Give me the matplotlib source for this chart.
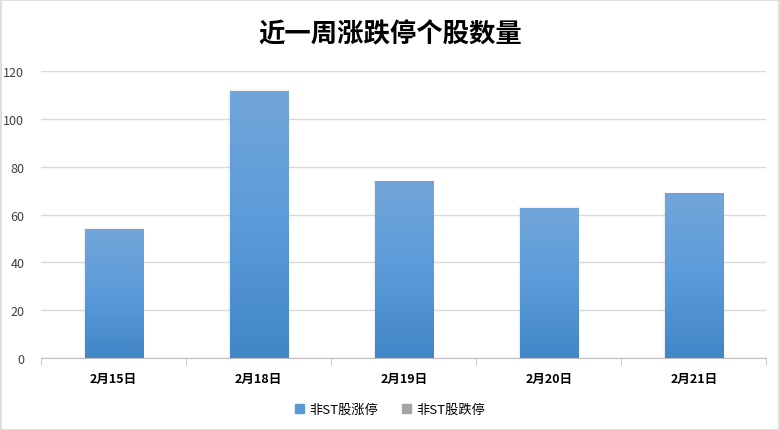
import matplotlib.pyplot as plt
import numpy as np
from matplotlib.colors import LinearSegmentedColormap
from matplotlib.patches import Rectangle

plt.rcParams['font.family'] = ['Noto Sans CJK SC', 'DejaVu Sans']

# data
dates = ['2月15日', '2月18日', '2月19日', '2月20日', '2月21日']
limit_up = [54, 112, 74, 63, 69]      # 非ST股涨停
limit_down = [0, 0, 0, 0, 0]          # 非ST股跌停 (no visible bars)
yticks = [0, 20, 40, 60, 80, 100, 120]

fig = plt.figure(figsize=(7.8, 4.31), dpi=100)
ax = fig.add_axes([0.0526, 0.167, 0.930, 0.665])

# outer frame of the chart area
fig.patches.append(Rectangle((0.001, 0.001), 0.998, 0.997, transform=fig.transFigure,
                             fill=False, edgecolor='#d9d9d9', lw=1.2))

x = np.arange(len(dates))
width = 0.4
grad = LinearSegmentedColormap.from_list('g', ['#4286c7', '#5b9bd9', '#72a6da'])

bars = ax.bar(x, limit_up, width=width, color='none', zorder=3)
for b in bars:
    bx, by, bw, bh = b.get_x(), b.get_y(), b.get_width(), b.get_height()
    # soft shadow around the bar
    for k, a in enumerate([0.08, 0.04]):
        d = 0.006 * (k + 1)
        ax.add_patch(Rectangle((bx - d, by), bw + 2 * d, bh + 0.3 * (k + 1),
                               facecolor='#808080', alpha=a, lw=0, zorder=2))
    img = ax.imshow(np.linspace(0, 1, 256).reshape(-1, 1), cmap=grad, aspect='auto',
                    extent=[bx, bx + bw, by, by + bh], origin='lower', zorder=3)
    rect = Rectangle((bx, by), bw, bh, transform=ax.transData, facecolor='none', lw=0)
    ax.add_patch(rect)
    img.set_clip_path(rect)

# second series: zero height, only for the legend
ax.bar(x, limit_down, width=width, color='#a5a5a5', zorder=3)

ax.set_xlim(-0.5, len(dates) - 0.5)
ax.set_ylim(0, 120)
ax.set_yticks(yticks)
ax.set_yticklabels([str(t) for t in yticks], fontsize=9, color='#404040')
ax.set_xticks(x)
ax.set_xticklabels(dates, fontsize=9, fontweight='bold', color='#000000')
ax.set_xticks(np.arange(-0.5, len(dates)), minor=True)
ax.tick_params(axis='x', which='major', length=0, pad=10)
ax.tick_params(axis='x', which='minor', length=5, color='#bfbfbf')
ax.tick_params(axis='y', length=0, pad=12)
ax.grid(axis='y', color='#d9d9d9', lw=1, zorder=0)
for s in ['top', 'right', 'left']:
    ax.spines[s].set_visible(False)
ax.spines['bottom'].set_color('#bfbfbf')

fig.suptitle('近一周涨跌停个股数量', fontsize=19, fontweight='bold', y=0.95)

handles = [Rectangle((0, 0), 1, 1, color='#5b9bd5'), Rectangle((0, 0), 1, 1, color='#a5a5a5')]
fig.legend(handles, ['非ST股涨停', '非ST股跌停'], loc='center', bbox_to_anchor=(0.5, 0.048),
           ncol=2, frameon=False, fontsize=9.5, handlelength=0.7, handleheight=0.7,
           handletextpad=0.4, columnspacing=1.8)

fig.savefig('out.png', dpi=100)
